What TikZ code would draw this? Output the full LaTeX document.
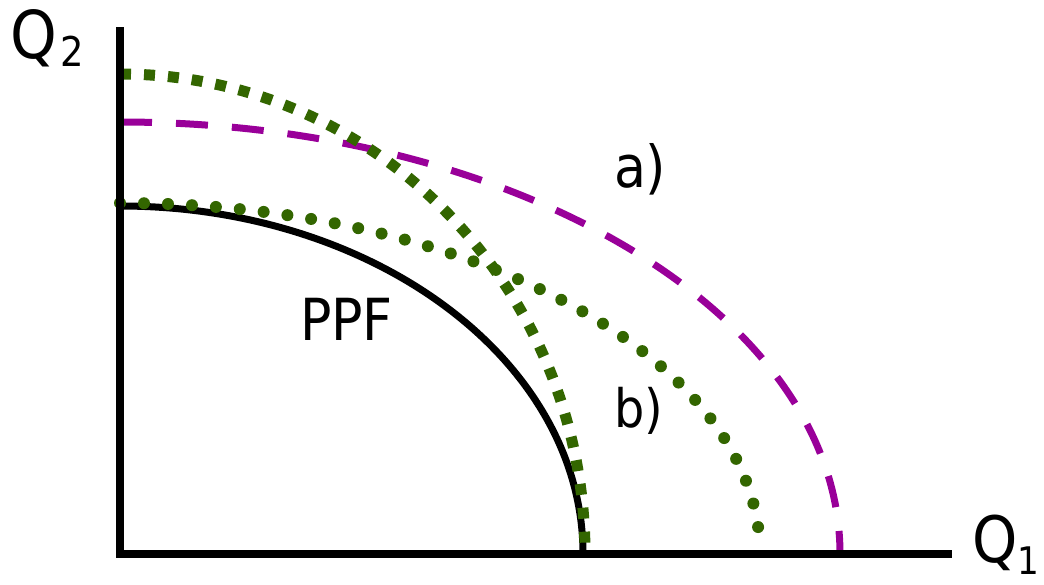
\documentclass[tikz,border=0pt]{standalone}
\usepackage{fontspec}
\setmainfont{DejaVu Sans Condensed}
\definecolor{pgreen}{RGB}{51,102,0}
\definecolor{ppurple}{RGB}{153,0,153}
\begin{document}
\begin{tikzpicture}[x=1pt,y=-1pt,
  lbl/.style={anchor=base west,inner sep=0pt,outer sep=0pt},
  axis/.style={line width=8pt,black},
  ppf/.style={line width=7pt,black},
  squaredot/.style={line width=11pt,pgreen,dash pattern=on 11pt off 13pt},
  rounddot/.style={line width=12pt,pgreen,line cap=round,dash pattern=on 0pt off 24pt},
  purpledash/.style={line width=7pt,ppurple,dash pattern=on 32pt off 24pt}]
\useasboundingbox (0,0) rectangle (1044,584);
\coordinate (top) at (120,27);
\coordinate (o) at (120,554);
\coordinate (right) at (952,554);
% curves
\coordinate (ppfs) at (120,206);
\draw[ppf] (ppfs) arc[start angle=90,end angle=0,x radius=463pt,y radius=348pt];
\coordinate (as) at (120,122);
\draw[purpledash] (as) arc[start angle=90,end angle=0,x radius=720pt,y radius=432pt];
\coordinate (bs) at (120,203);
\draw[rounddot] (bs) arc[start angle=90,end angle=4,x radius=640pt,y radius=351pt];
\coordinate (cs) at (120,74);
\draw[squaredot] (cs) arc[start angle=90,end angle=0,x radius=465pt,y radius=480pt];
% axes
\draw[axis,line cap=butt] (top) -- (o) -- (right);
% labels
\node[lbl,font=\fontsize{66}{70}\selectfont] (q2) at (10,58) {Q\hspace{4pt}\raisebox{-8pt}{\fontsize{41}{45}\selectfont 2}};
\node[lbl,font=\fontsize{64}{70}\selectfont] (q1) at (972,562) {Q\raisebox{-12pt}{\fontsize{38}{42}\selectfont 1}};
\node[lbl,font=\fontsize{58}{62}\selectfont] (ppflbl) at (300,340) {PPF};
\node[lbl,font=\fontsize{58}{62}\selectfont] (albl) at (614,187) {a)};
\node[lbl,font=\fontsize{53}{58}\selectfont] (blbl) at (614,427) {b)};
\end{tikzpicture}
\end{document}
